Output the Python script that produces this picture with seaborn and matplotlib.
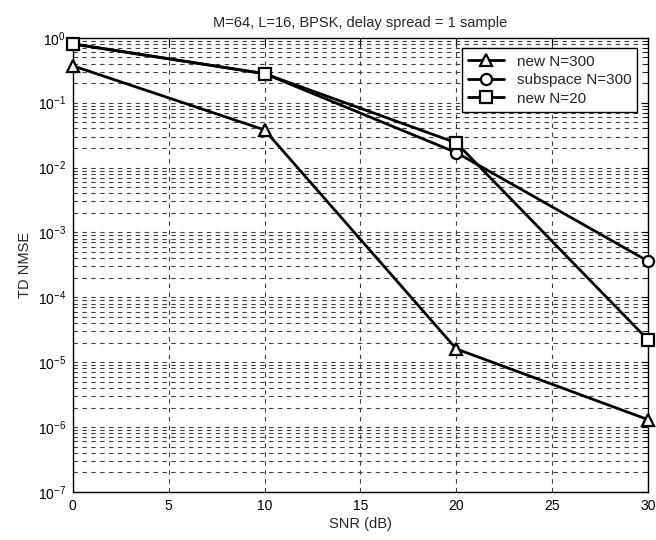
import matplotlib
matplotlib.use("Agg")
import matplotlib.pyplot as plt
import matplotlib.ticker as mticker
import seaborn as sns
import pandas as pd

snr_db = [0, 10, 20, 30]
new_n300 = [0.37, 0.038, 1.6e-5, 1.3e-6]
subspace_n300 = [0.80, 0.28, 0.017, 3.6e-4]
new_n20 = [0.81, 0.28, 0.024, 2.2e-5]

series = [
    ("new N=300", new_n300, "^"),
    ("subspace N=300", subspace_n300, "o"),
    ("new N=20", new_n20, "s"),
]

sns.set_style("white")
plt.rcParams["font.family"] = ["Liberation Sans", "DejaVu Sans"]
plt.rcParams["mathtext.fontset"] = "custom"
plt.rcParams["mathtext.rm"] = "Liberation Sans"

fig = plt.figure(figsize=(6.56, 5.4), dpi=100)
ax = fig.add_axes([0.111, 0.089, 0.877, 0.841])

for name, vals, mk in series:
    df = pd.DataFrame({"SNR": snr_db, "NMSE": vals})
    sns.lineplot(data=df, x="SNR", y="NMSE", ax=ax, color="k", linewidth=2,
                 marker=mk, markersize=8, markerfacecolor="white",
                 markeredgecolor="k", markeredgewidth=1.6, label=name,
                 clip_on=False, zorder=5)

ax.set_yscale("log")
ax.set_xlim(0, 30)
ax.set_ylim(1e-7, 1)
ax.set_xticks(range(0, 31, 5))
ax.set_yticks([10.0 ** -k for k in range(8)])
ax.set_yticks([m * 10.0 ** -k for k in range(1, 8) for m in range(2, 10)], minor=True)
ax.yaxis.set_major_formatter(mticker.LogFormatterSciNotation())
ax.yaxis.set_minor_formatter(mticker.NullFormatter())

ax.grid(True, which="major", axis="both", color="0.25", linestyle=(0, (4, 4)), linewidth=0.8)
ax.grid(True, which="minor", axis="y", color="0.25", linestyle=(0, (4, 4)), linewidth=0.8)

ax.tick_params(which="both", direction="in", top=True, right=True, labelsize=10, colors="k")
ax.tick_params(which="major", length=5, pad=5)
ax.tick_params(which="minor", length=3)
for sp in ax.spines.values():
    sp.set_color("k")
    sp.set_linewidth(1)

ax.set_title("M=64, L=16, BPSK, delay spread = 1 sample", fontsize=10.5, pad=8)
ax.set_xlabel("SNR (dB)", fontsize=10.5, labelpad=3)
ax.set_ylabel("TD NMSE", fontsize=10.5)

leg = ax.legend(loc="upper right", fontsize=11, fancybox=False, framealpha=1,
                edgecolor="k", borderaxespad=0.7, handlelength=2.4,
                labelspacing=0.3)
leg.get_frame().set_linewidth(1)
leg.set_zorder(10)

fig.savefig("out.png", dpi=100)
